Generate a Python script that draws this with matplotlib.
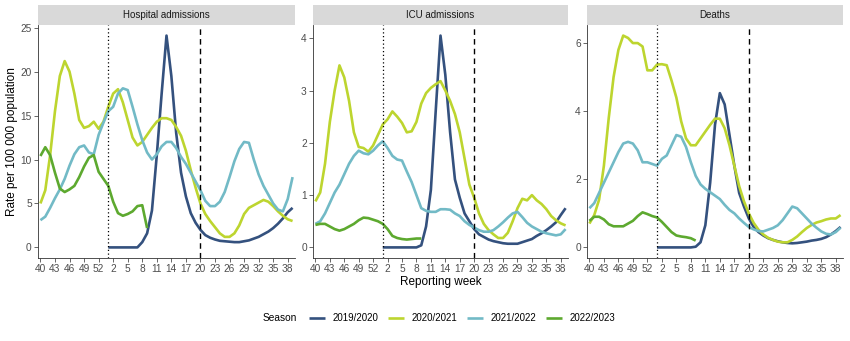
import matplotlib
matplotlib.use('Agg')
import matplotlib.pyplot as plt
from matplotlib.patches import Rectangle
import numpy as np

plt.rcParams['font.family'] = ['Liberation Sans', 'DejaVu Sans']

# reporting weeks: 40..53 then 1..39
weeks = list(range(40, 54)) + list(range(1, 40))
seasons = ['2019/2020', '2020/2021', '2021/2022', '2022/2023']
colors = ['#34517E', '#BDD52F', '#72BAC6', '#5DA92F']
panels = ['Hospital admissions', 'ICU admissions', 'Deaths']

# 2019/2020 starts in week 1, 2022/2023 runs week 40 .. week 9
hosp_1920 = [0, 0, 0, 0, 0, 0, 0, 0.6, 1.6, 4.2, 10.5, 17.5, 24.1, 19.5, 13.0, 8.5, 5.8,
             3.9, 2.8, 2.0, 1.4, 1.1, 0.9, 0.75, 0.7, 0.65, 0.6,
             0.6, 0.7, 0.8, 1.0, 1.2, 1.5, 1.8, 2.2, 2.7, 3.3, 4.0, 4.5]
hosp_2021 = [5.0, 6.5, 10.5, 15.5, 19.5, 21.2, 20.0, 17.5, 14.5, 13.6, 13.8, 14.3, 13.5, 14.3,
             16.0, 17.5, 18.0, 16.5, 14.5, 12.5, 11.6, 12.0, 12.8, 13.6,
             14.3, 14.7, 14.7, 14.5, 13.7, 12.7, 11.0, 8.8, 6.8, 5.0,
             3.8, 3.0, 2.3, 1.6, 1.2, 1.2, 1.6, 2.5, 3.8, 4.5,
             4.8, 5.1, 5.4, 5.2, 4.7, 4.1, 3.6, 3.2, 3.0]
hosp_2122 = [3.1, 3.5, 4.5, 5.6, 6.6, 7.8, 9.3, 10.6, 11.4, 11.6, 10.8, 10.6, 12.8, 14.2,
             15.5, 16.0, 17.5, 18.1, 17.9, 16.0, 14.0, 12.2, 10.8, 10.0,
             10.6, 11.5, 12.0, 12.0, 11.3, 10.3, 9.5, 8.5, 7.5, 6.5,
             5.3, 4.7, 4.7, 5.2, 6.3, 8.0, 9.8, 11.2, 12.0, 11.9,
             10.0, 8.3, 7.0, 6.0, 5.0, 4.3, 4.1, 5.5, 8.0]
hosp_2223 = [10.4, 11.4, 10.5, 8.5, 6.7, 6.3, 6.6, 7.0, 8.0, 9.2, 10.2, 10.5, 8.6, 7.8,
             7.0, 5.2, 3.9, 3.6, 3.8, 4.1, 4.7, 4.8, 2.2]

icu_1920 = [0, 0, 0, 0, 0, 0, 0, 0, 0.04, 0.4, 1.1, 2.6, 4.05, 3.3, 2.2, 1.3, 0.95, 0.65,
            0.5, 0.35, 0.25, 0.2, 0.15, 0.12, 0.1, 0.08, 0.07, 0.07,
            0.07, 0.1, 0.13, 0.16, 0.22, 0.27, 0.33, 0.4, 0.48, 0.62, 0.75]
icu_2021 = [0.88, 1.05, 1.6, 2.4, 3.0, 3.48, 3.25, 2.8, 2.2, 1.92, 1.9, 1.83, 1.95, 2.15,
            2.35, 2.45, 2.6, 2.5, 2.38, 2.2, 2.22, 2.4, 2.75, 2.95,
            3.05, 3.12, 3.18, 3.0, 2.8, 2.55, 2.2, 1.7, 1.2, 0.95,
            0.65, 0.45, 0.33, 0.25, 0.18, 0.18, 0.28, 0.5, 0.75, 0.93,
            0.9, 1.0, 0.9, 0.83, 0.73, 0.6, 0.52, 0.46, 0.42]
icu_2122 = [0.45, 0.5, 0.65, 0.85, 1.05, 1.2, 1.4, 1.6, 1.75, 1.85, 1.8, 1.78, 1.85, 1.95,
            2.03, 1.9, 1.75, 1.68, 1.66, 1.45, 1.25, 1.0, 0.75, 0.7,
            0.68, 0.68, 0.73, 0.73, 0.72, 0.65, 0.6, 0.5, 0.43, 0.38,
            0.33, 0.3, 0.3, 0.33, 0.4, 0.48, 0.57, 0.65, 0.68, 0.58,
            0.47, 0.4, 0.35, 0.3, 0.27, 0.25, 0.23, 0.25, 0.35]
icu_2223 = [0.43, 0.45, 0.45, 0.4, 0.35, 0.32, 0.35, 0.4, 0.45, 0.52, 0.57, 0.56, 0.53, 0.5,
            0.45, 0.35, 0.22, 0.18, 0.16, 0.15, 0.16, 0.17, 0.17]

death_1920 = [0, 0, 0, 0, 0, 0, 0, 0, 0.02, 0.15, 0.65, 1.9, 3.6, 4.53, 4.2, 3.3, 2.4, 1.6,
              1.2, 0.85, 0.6, 0.45, 0.35, 0.27, 0.22, 0.18, 0.15, 0.13,
              0.12, 0.13, 0.15, 0.17, 0.2, 0.22, 0.25, 0.3, 0.38, 0.48, 0.6]
death_2021 = [0.7, 0.95, 1.4, 2.4, 3.8, 5.0, 5.8, 6.22, 6.15, 6.0, 6.0, 5.9, 5.2, 5.2,
              5.37, 5.38, 5.35, 4.9, 4.4, 3.7, 3.2, 3.0, 3.0, 3.2,
              3.4, 3.6, 3.78, 3.78, 3.5, 3.0, 2.4, 1.8, 1.35, 1.0,
              0.72, 0.52, 0.38, 0.28, 0.22, 0.17, 0.15, 0.15, 0.22, 0.32,
              0.45, 0.57, 0.66, 0.73, 0.77, 0.82, 0.85, 0.85, 0.95]
death_2122 = [1.15, 1.3, 1.6, 1.9, 2.2, 2.5, 2.8, 3.05, 3.1, 3.05, 2.85, 2.5, 2.5, 2.45,
              2.4, 2.6, 2.7, 3.0, 3.3, 3.25, 2.95, 2.5, 2.1, 1.85,
              1.72, 1.62, 1.52, 1.42, 1.25, 1.1, 1.0, 0.85, 0.72, 0.6,
              0.53, 0.48, 0.47, 0.52, 0.57, 0.65, 0.8, 1.0, 1.2, 1.15,
              1.0, 0.85, 0.7, 0.58, 0.47, 0.4, 0.38, 0.45, 0.58]
death_2223 = [0.78, 0.9, 0.9, 0.82, 0.68, 0.62, 0.62, 0.62, 0.7, 0.78, 0.92, 1.03, 0.98, 0.92,
              0.88, 0.75, 0.6, 0.45, 0.35, 0.32, 0.3, 0.27, 0.2]

data = [
    [hosp_1920, hosp_2021, hosp_2122, hosp_2223],
    [icu_1920, icu_2021, icu_2122, icu_2223],
    [death_1920, death_2021, death_2122, death_2223],
]
yticks = [[0, 5, 10, 15, 20, 25], [0, 1, 2, 3, 4], [0, 2, 4, 6]]

x = np.arange(len(weeks))
wk1 = weeks.index(1)
wk20 = weeks.index(20)

fig = plt.figure(figsize=(8.5, 3.41), dpi=100)
lefts = [38 / 850, 313 / 850, 587 / 850]
widths = [257 / 850, 255 / 850, 256 / 850]
bottom = 1 - 258 / 341
height = 233 / 341

grey = '#4D4D4D'
handles = []
for p in range(3):
    ax = fig.add_axes([lefts[p], bottom, widths[p], height])
    series = data[p]
    for s in range(4):
        vals = series[s]
        if s == 0:
            xs = x[wk1:wk1 + len(vals)]
        else:
            xs = x[:len(vals)]
        ln, = ax.plot(xs, vals, color=colors[s], lw=1.9, solid_capstyle='butt',
                      solid_joinstyle='round', label=seasons[s])
        if p == 0:
            handles.append(ln)
    ax.axvline(wk1, color='black', lw=0.9, ls=(0, (1, 2)))
    ax.axvline(wk20, color='black', lw=1.0, ls=(0, (4, 3)))

    ymax = max(max(v) for v in series)
    ax.set_ylim(-0.05 * ymax, ymax * 1.05)
    ax.set_xlim(-0.5, len(weeks) - 0.5)
    ax.set_yticks(yticks[p])
    ax.set_xticks(x[::3])
    ax.set_xticklabels([str(w) for w in weeks[::3]])
    ax.tick_params(labelsize=7.3, colors=grey, length=3, width=0.6, pad=1.5)
    for sp in ['top', 'right']:
        ax.spines[sp].set_visible(False)
    for sp in ['left', 'bottom']:
        ax.spines[sp].set_color('#333333')
        ax.spines[sp].set_linewidth(0.6)

    # facet strip
    sh = 20 / 233
    ax.add_patch(Rectangle((0, 1), 1, sh, transform=ax.transAxes, clip_on=False,
                           facecolor='#D9D9D9', edgecolor='none'))
    ax.text(0.5, 1 + sh / 2, panels[p], transform=ax.transAxes, ha='center', va='center',
            fontsize=7, color='#1A1A1A')

fig.text(12 / 850, 0.585, 'Rate per 100 000 population', rotation=90, ha='center',
         va='center', fontsize=8.5)
fig.text(441 / 850, 1 - 282 / 341, 'Reporting week', ha='center', va='center', fontsize=8.5)

fig.text(263 / 850, 1 - 318 / 341, 'Season', ha='left', va='center', fontsize=7.3)
fig.legend(handles=handles, labels=seasons, loc='center left',
           bbox_to_anchor=(309 / 850, 1 - 318 / 341), ncol=4, frameon=False,
           fontsize=7, handlelength=1.65, handletextpad=0.8, columnspacing=0.95,
           borderaxespad=0, borderpad=0)

fig.savefig('out.png', dpi=100)
